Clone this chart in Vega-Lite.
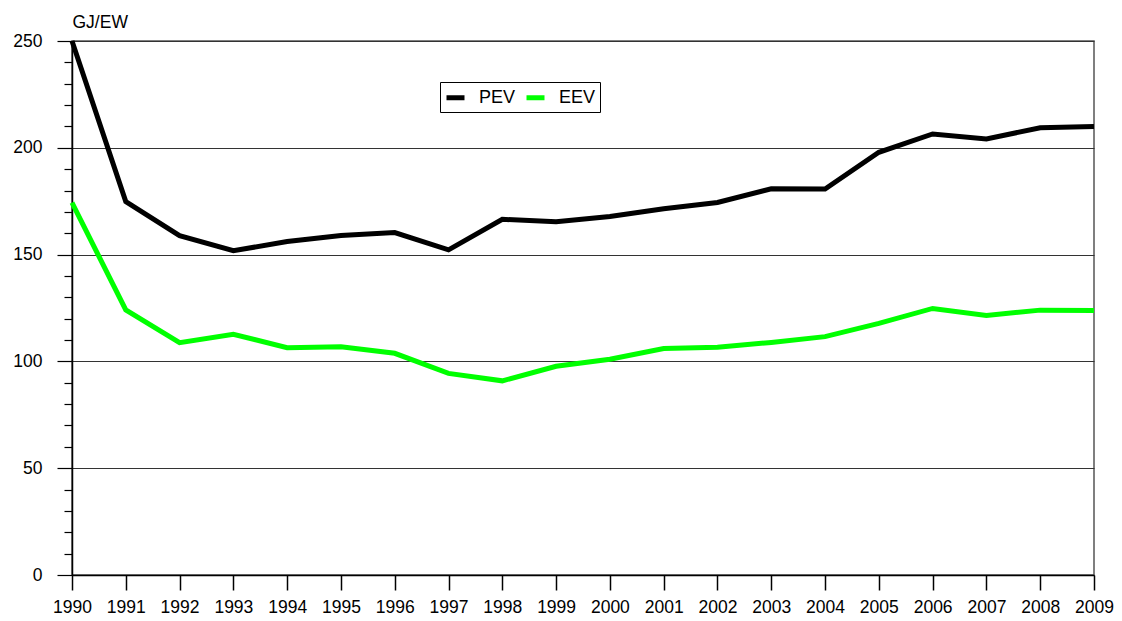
{
  "$schema": "https://vega.github.io/schema/vega-lite/v6.json",
  "width": 1022,
  "height": 534,
  "autosize": {"type": "none"},
  "padding": {"left": 72, "top": 41, "right": 28, "bottom": 46},
  "background": "white",
  "config": {
    "font": "Liberation Sans",
    "view": {"stroke": "#555555", "strokeWidth": 1.5}
  },
  "data": {
    "values": [
      {"year": 1990, "s": "PEV", "v": 250},
      {"year": 1991, "s": "PEV", "v": 174.8},
      {"year": 1992, "s": "PEV", "v": 158.9},
      {"year": 1993, "s": "PEV", "v": 151.8},
      {"year": 1994, "s": "PEV", "v": 156.1},
      {"year": 1995, "s": "PEV", "v": 158.9},
      {"year": 1996, "s": "PEV", "v": 160.3},
      {"year": 1997, "s": "PEV", "v": 152.2},
      {"year": 1998, "s": "PEV", "v": 166.5},
      {"year": 1999, "s": "PEV", "v": 165.4},
      {"year": 2000, "s": "PEV", "v": 167.8},
      {"year": 2001, "s": "PEV", "v": 171.5},
      {"year": 2002, "s": "PEV", "v": 174.4},
      {"year": 2003, "s": "PEV", "v": 180.8},
      {"year": 2004, "s": "PEV", "v": 180.7},
      {"year": 2005, "s": "PEV", "v": 197.9},
      {"year": 2006, "s": "PEV", "v": 206.5},
      {"year": 2007, "s": "PEV", "v": 204.1},
      {"year": 2008, "s": "PEV", "v": 209.4},
      {"year": 2009, "s": "PEV", "v": 210.0},
      {"year": 1990, "s": "EEV", "v": 174.3},
      {"year": 1991, "s": "EEV", "v": 124.1},
      {"year": 1992, "s": "EEV", "v": 108.8},
      {"year": 1993, "s": "EEV", "v": 112.7},
      {"year": 1994, "s": "EEV", "v": 106.4},
      {"year": 1995, "s": "EEV", "v": 106.9},
      {"year": 1996, "s": "EEV", "v": 103.8},
      {"year": 1997, "s": "EEV", "v": 94.4},
      {"year": 1998, "s": "EEV", "v": 90.9},
      {"year": 1999, "s": "EEV", "v": 97.7},
      {"year": 2000, "s": "EEV", "v": 101.0},
      {"year": 2001, "s": "EEV", "v": 106.0},
      {"year": 2002, "s": "EEV", "v": 106.6},
      {"year": 2003, "s": "EEV", "v": 108.9},
      {"year": 2004, "s": "EEV", "v": 111.6},
      {"year": 2005, "s": "EEV", "v": 117.8},
      {"year": 2006, "s": "EEV", "v": 124.8},
      {"year": 2007, "s": "EEV", "v": 121.5},
      {"year": 2008, "s": "EEV", "v": 124.0},
      {"year": 2009, "s": "EEV", "v": 123.8}
    ]
  },
  "mark": {"type": "line", "strokeWidth": 5, "strokeJoin": "miter", "clip": false},
  "encoding": {
    "x": {
      "field": "year",
      "type": "quantitative",
      "scale": {"domain": [1990, 2009], "nice": false, "zero": false},
      "axis": {
        "title": null,
        "values": [1990,1991,1992,1993,1994,1995,1996,1997,1998,1999,2000,2001,2002,2003,2004,2005,2006,2007,2008,2009],
        "format": "d",
        "grid": false,
        "domainColor": "#000000",
        "domainWidth": 1.5,
        "tickColor": "#000000",
        "tickSize": 15,
        "tickWidth": 1.5,
        "labelFontSize": 17.5,
        "labelColor": "#000000",
        "labelPadding": 8,
        "labelFlush": false,
        "labelOverlap": false
      }
    },
    "y": {
      "field": "v",
      "type": "quantitative",
      "scale": {"domain": [0, 250], "nice": false},
      "axis": {
        "title": "GJ/EW",
        "titleAngle": 0,
        "titleX": 0,
        "titleY": -19,
        "titleAlign": "left",
        "titleBaseline": "middle",
        "titleFontSize": 17.5,
        "titleFontWeight": "normal",
        "titleColor": "#000000",
        "values": [0,10,20,30,40,50,60,70,80,90,100,110,120,130,140,150,160,170,180,190,200,210,220,230,240,250],
        "labelExpr": "datum.value % 50 == 0 ? datum.label : ''",
        "grid": true,
        "gridColor": "#333333",
        "gridWidth": 1.2,
        "gridOpacity": {"condition": {"test": "datum.value % 50 == 0", "value": 1}, "value": 0},
        "domainColor": "#000000",
        "domainWidth": 1.5,
        "tickColor": "#000000",
        "tickWidth": 1.2,
        "tickSize": {"condition": {"test": "datum.value % 50 == 0", "value": 15}, "value": 8},
        "labelFontSize": 17.5,
        "labelColor": "#000000",
        "labelPadding": 15,
        "labelFlush": false,
        "labelOverlap": false
      }
    },
    "color": {
      "field": "s",
      "type": "nominal",
      "sort": ["PEV", "EEV"],
      "scale": {"domain": ["PEV", "EEV"], "range": ["#000000", "#00ff00"]},
      "legend": {
        "title": null,
        "orient": "none",
        "legendX": 368,
        "legendY": 41,
        "direction": "horizontal",
        "symbolType": "stroke",
        "symbolSize": 324,
        "symbolStrokeWidth": 5,
        "labelFontSize": 18,
        "labelColor": "#000000",
        "labelOffset": 12,
        "labelExpr": "datum.label == 'EEV' ? 'EEV      ' : datum.label",
        "columnPadding": 0,
        "padding": 4,
        "strokeColor": "#000000",
        "fillColor": "white"
      }
    }
  }
}
